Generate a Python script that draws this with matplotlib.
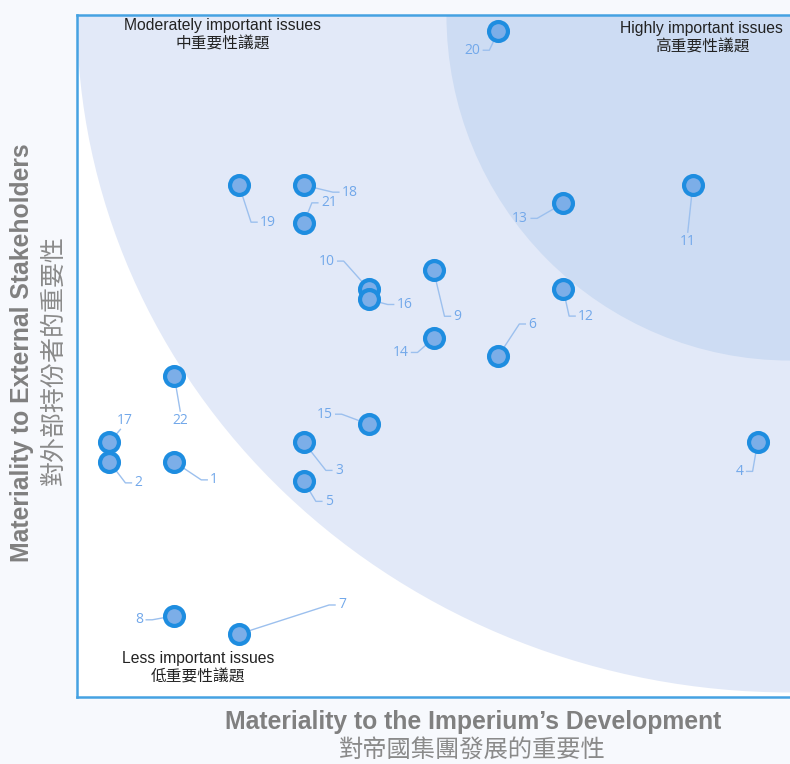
import matplotlib.pyplot as plt
from matplotlib.lines import Line2D
from matplotlib.patches import Ellipse
from matplotlib.transforms import IdentityTransform

plt.rcParams['font.family'] = ['Liberation Sans', 'Noto Sans CJK TC', 'DejaVu Sans']

# issue numbers and their position on the matrix
issue_ids = [1, 2, 3, 4, 5, 6, 7, 8, 9, 10, 11,
             12, 13, 14, 15, 16, 17, 18, 19, 20, 21, 22]
imperium = [1.5, 0.5, 3.5, 10.5, 3.5, 6.5, 2.5, 1.5, 5.5, 4.5, 9.5,
            7.5, 7.5, 5.5, 4.5, 4.5, 0.5, 3.5, 2.5, 6.5, 3.5, 1.5]
stakeholders = [3.62, 3.62, 3.92, 3.92, 3.32, 5.25, 0.97, 1.25, 6.57, 6.28, 7.88,
                6.28, 7.60, 5.52, 4.20, 6.12, 3.92, 7.88, 7.88, 10.25, 7.30, 4.94]

# label offsets (pixels) relative to each point
label_dx = [40, 29, 35, -18, 25, 34, 103, -35, 24, -42, -5,
            23, -43, -33, -44, 36, 15, 46, 29, -26, 25, 6]
label_dy = [-18, -21, -28, -29, -20, 32, 29, -4, -46, 28, -56,
            -27, -15, -14, 10, -5, 22, -7, -37, -19, 20, -44]

zone_text = ["Less important issues\n低重要性議題",
             "Moderately important issues\n中重要性議題",
             "Highly important issues\n高重要性議題"]

fig = plt.figure(figsize=(7.9, 7.64), dpi=100)
fig.patch.set_facecolor('#f7f9fd')
ax = fig.add_axes([77 / 790, 67 / 764, 713 / 790, 682 / 764])
ax.set_xlim(0, 11)
ax.set_ylim(0, 10.5)
ax.set_facecolor('white')

# importance zones, centred on the top-right corner
ax.add_patch(Ellipse((11, 10.5), 2 * 11.0, 2 * 10.43, color='#e2e9f8', lw=0, zorder=0))
ax.add_patch(Ellipse((11, 10.5), 2 * 5.3, 2 * 5.32, color='#cddcf3', lw=0, zorder=0))

ax.scatter(imperium, stakeholders, s=185, c='#7caee8', edgecolors='#1e8de0',
           linewidths=3, zorder=3)

# number labels with elbow leader lines (drawn in pixel space)
for n, x, y, dx, dy in zip(issue_ids, imperium, stakeholders, label_dx, label_dy):
    px, py = ax.transData.transform((x, y))
    lx, ly = px + dx, py + dy
    ax.text(lx, ly, str(n), transform=IdentityTransform(), ha='center', va='center',
            fontsize=10, color='#72a8ea', family=['Open Sans', 'DejaVu Sans'], zorder=2)
    if abs(dx) < 16:
        xs = [px, lx - (4 if dx > 8 else 0)]
        ys = [py, ly + (9 if dy < 0 else -9)]
    else:
        s = 1 if dx > 0 else -1
        gap = 4 * len(str(n)) + 3
        xs = [px, lx - s * (gap + 6), lx - s * gap]
        ys = [py, ly, ly]
    ax.add_line(Line2D(xs, ys, transform=IdentityTransform(), color='#9cc0ee',
                       lw=1, zorder=2))

ax.text(1.87, 0.45, zone_text[0], ha='center', va='center', fontsize=11.3,
        color='#222222', linespacing=1.25)
ax.text(2.25, 10.2, zone_text[1], ha='center', va='center', fontsize=11.3,
        color='#222222', linespacing=1.25)
ax.text(9.64, 10.15, zone_text[2], ha='center', va='center', fontsize=11.3,
        color='#222222', linespacing=1.25)

ax.set_xticks([])
ax.set_yticks([])
for side in ['left', 'top', 'bottom']:
    ax.spines[side].set_color('#45a2e2')
    ax.spines[side].set_linewidth(1.8)
ax.spines['right'].set_visible(False)

fig.text(473 / 790, 1 - 722 / 764, "Materiality to the Imperium\u2019s Development",
         ha='center', va='center', fontsize=17.8, fontweight='bold', color='#808080')
fig.text(472 / 790, 1 - 750 / 764, "對帝國集團發展的重要性",
         ha='center', va='center', fontsize=17.5, color='#8a8a8a',
         family=['Noto Sans CJK TC', 'DejaVu Sans'])
fig.text(22 / 790, 1 - 353 / 764, "Materiality to External Stakeholders",
         ha='center', va='center', rotation=90, fontsize=17.8, fontweight='bold',
         color='#808080')
fig.text(54 / 790, 1 - 360 / 764, "對外部持份者的重要性",
         ha='center', va='center', rotation=90, fontsize=18, color='#8a8a8a',
         family=['Noto Sans CJK TC', 'DejaVu Sans'])

fig.savefig('out.png', dpi=100, facecolor=fig.get_facecolor())
